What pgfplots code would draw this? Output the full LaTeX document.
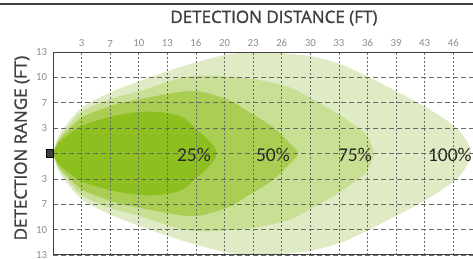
\documentclass[border=0pt]{standalone}
\usepackage{fontspec}
\usepackage{pgfplots}
\pgfplotsset{compat=1.18}
\setmainfont{Carlito}
\newfontfamily\titlefont{Open Sans}[FakeBold=1.2]
\definecolor{c100}{RGB}{223,235,196}
\definecolor{c75}{RGB}{200,223,148}
\definecolor{c50}{RGB}{170,206,84}
\definecolor{c25}{RGB}{141,192,30}
\definecolor{tickgray}{RGB}{140,140,140}
\definecolor{titlegray}{RGB}{64,64,64}
\definecolor{gridgray}{RGB}{105,105,105}
\begin{document}
\begin{tikzpicture}
\useasboundingbox (-53pt,-4pt) rectangle (420pt,255pt);
\begin{axis}[
  at={(0,0)}, anchor=south west,
  scale only axis, width=420pt, height=203pt,
  xmin=0, xmax=14.69, ymin=-4, ymax=4,
  clip=false,
  axis on top,
  axis x line*=box, axis y line*=left,
  axis line style={draw=titlegray, line width=1pt},
  xtick={1,...,14},
  xticklabels={3,7,10,13,16,20,23,26,30,33,36,39,43,46},
  ytick={-4,-3,-2,-1,0,1,2,3,4},
  yticklabels={13,10,7,3,,3,7,10,13},
  xticklabel pos=right,
  major tick length=0pt,
  tick label style={font=\fontsize{10.8}{12}\selectfont, text=tickgray},
  xticklabel style={yshift=1.4pt},
  yticklabel style={xshift=-2.4pt},
  xmajorgrids, ymajorgrids,
  x grid style={draw=gridgray, line width=0.7pt, dash pattern=on 2pt off 2pt},
  y grid style={draw=gridgray, line width=0.7pt, dash pattern=on 5pt off 3pt},
  xlabel={DETECTION DISTANCE (FT)},
  ylabel={DETECTION RANGE (FT)},
  every axis x label/.style={at={(rel axis cs:0.526,1.167)}, anchor=center, font=\titlefont\fontsize{17}{20}\selectfont, text=titlegray},
  every axis y label/.style={at={(rel axis cs:-0.074,0.527)}, anchor=center, rotate=90, font=\titlefont\fontsize{17}{20}\selectfont, text=titlegray},
]
\addplot[fill=c100, draw=none, smooth] coordinates {
(0,0) (0.175,0.63) (0.42,1.06) (1.014,1.81) (2.063,2.44) (2.972,2.83) (4.51,3.43) (6.084,3.90) (7.133,3.98) (8.112,3.94) (9.09,3.82) (10.105,3.50) (11.01,3.03) (12.03,2.44) (13.01,1.85) (14.06,1.06) (14.48,0.47) (14.615,0)
(14.48,-0.47) (14.06,-1.06) (13.01,-1.85) (12.03,-2.44) (11.01,-3.03) (10.105,-3.50) (9.09,-3.82) (8.112,-3.94) (7.133,-3.98) (6.084,-3.90) (4.51,-3.43) (2.972,-2.83) (2.063,-2.44) (1.014,-1.81) (0.42,-1.06) (0.175,-0.63) (0,0)};
\addplot[fill=c75, draw=none, smooth] coordinates {
(0,0) (0.175,0.55) (0.42,0.91) (1.014,1.65) (2.063,2.17) (2.972,2.44) (4.51,2.99) (5.31,3.07) (6.084,3.03) (7.133,2.91) (8.29,2.60) (9.09,2.13) (10.105,1.46) (10.91,0.79) (11.12,0.39) (11.22,0)
(11.12,-0.39) (10.91,-0.79) (10.105,-1.46) (9.09,-2.13) (8.29,-2.60) (7.133,-2.91) (6.084,-3.03) (5.31,-3.07) (4.51,-2.99) (2.972,-2.44) (2.063,-2.17) (1.014,-1.65) (0.42,-0.91) (0.175,-0.55) (0,0)};
\addplot[fill=c50, draw=none, smooth] coordinates {
(0,0) (0.175,0.47) (0.42,0.79) (1.014,1.42) (2.063,1.89) (2.972,2.13) (4.51,2.44) (5.14,2.44) (5.59,2.32) (6.19,2.09) (6.78,1.69) (7.69,1.04) (8.29,0.40) (8.57,0)
(8.29,-0.40) (7.69,-1.04) (6.78,-1.69) (6.19,-2.09) (5.59,-2.32) (5.14,-2.44) (4.51,-2.44) (2.972,-2.13) (2.063,-1.89) (1.014,-1.42) (0.42,-0.79) (0.175,-0.47) (0,0)};
\addplot[fill=c25, draw=none, smooth] coordinates {
(0,0) (0.175,0.39) (0.42,0.63) (1.014,1.10) (2.063,1.46) (2.972,1.63) (3.74,1.63) (4.51,1.44) (5.03,0.94) (5.49,0.47) (5.73,0)
(5.49,-0.47) (5.03,-0.94) (4.51,-1.44) (3.74,-1.63) (2.972,-1.63) (2.063,-1.46) (1.014,-1.10) (0.42,-0.63) (0.175,-0.39) (0,0)};
\addplot[only marks, mark=square*, mark size=3.3pt, mark options={fill=titlegray, draw=none, yscale=1.2}] coordinates {(-0.105,0)};
\node[font=\fontsize{19.5}{22}\selectfont, text={rgb,255:red,38;green,38;blue,38}] at (axis cs:4.93,-0.04) {25\%};
\node[font=\fontsize{19.5}{22}\selectfont, text={rgb,255:red,38;green,38;blue,38}] at (axis cs:7.69,-0.04) {50\%};
\node[font=\fontsize{19.5}{22}\selectfont, text={rgb,255:red,38;green,38;blue,38}] at (axis cs:10.56,-0.04) {75\%};
\node[font=\fontsize{19.5}{22}\selectfont, text={rgb,255:red,38;green,38;blue,38}] at (axis cs:13.88,-0.04) {100\%};
\end{axis}
\draw[titlegray, line width=1.3pt] (-53pt,251pt) -- (420pt,251pt);
\end{tikzpicture}
\end{document}
